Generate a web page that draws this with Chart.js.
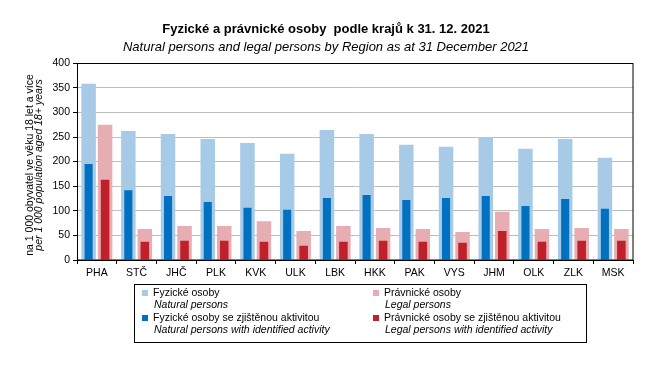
<!DOCTYPE html>
<html><head><meta charset="utf-8">
<script src="https://cdn.jsdelivr.net/npm/chart.js@4/dist/chart.umd.min.js"></script>
<style>html,body{margin:0;padding:0;background:#fff}#wrap{width:668px;height:379px;position:relative}</style>
</head><body><div id="wrap"><canvas id="c" width="668" height="379"></canvas></div>
<script>
const regions = ['PHA','STČ','JHČ','PLK','KVK','ULK','LBK','HKK','PAK','VYS','JHM','OLK','ZLK','MSK'];
const naturalPersons = [358,262,256,246,238,216,264,256,234,230,250,226,246,208];
const naturalActive  = [195,142,130,118,106,102,126,132,122,126,130,110,124,104];
const legalPersons   = [275,63,69,69,79,59,69,65,63,57,98,63,65,63];
const legalActive    = [163,37,39,39,37,29,37,39,37,35,59,37,39,39];
const yMin = 0, yMax = 400, yStep = 50;
const titleCz = 'Fyzické a právnické osoby  podle krajů k 31. 12. 2021';
const titleEn = 'Natural persons and legal persons by Region as at 31 December 2021';
const yTitleCz = 'na 1 000 obyvatel ve věku 18 let a více';
const yTitleEn = 'per 1 000 population aged 18+ years';
const legendItems = [
  {cz:'Fyzické osoby', en:'Natural persons', color:'#a7cbe7', x:142, y:293},
  {cz:'Právnické osoby', en:'Legal persons', color:'#e6adb2', x:373, y:293},
  {cz:'Fyzické osoby se zjištěnou aktivitou', en:'Natural persons with identified activity', color:'#0070c0', x:142, y:318},
  {cz:'Právnické osoby se zjištěnou aktivitou', en:'Legal persons with identified activity', color:'#c0202a', x:373, y:318}
];
const FONT = '"Liberation Sans", Arial, sans-serif';

const extras = {
  id: 'extras',
  afterDatasetsDraw(chart) {
    const {ctx, chartArea: a} = chart;
    ctx.save();
    ctx.strokeStyle = '#000'; ctx.lineWidth = 1;
    ctx.strokeRect(Math.round(a.left)+0.5, Math.round(a.top)+0.5, Math.round(a.right-a.left)-0.5, Math.round(a.bottom-a.top)-0.5);
    ctx.restore();
  },
  afterDraw(chart) {
    const ctx = chart.ctx;
    ctx.save();
    ctx.fillStyle = '#000';
    ctx.textAlign = 'center'; ctx.textBaseline = 'middle';
    ctx.save(); ctx.translate(30, 165); ctx.rotate(-Math.PI/2);
    ctx.font = '10.5px ' + FONT; ctx.fillText(yTitleCz, 0, 0); ctx.restore();
    ctx.save(); ctx.translate(39.5, 165); ctx.rotate(-Math.PI/2);
    ctx.font = 'italic 10.5px ' + FONT; ctx.fillText(yTitleEn, 0, 0); ctx.restore();
    ctx.strokeStyle = '#000'; ctx.lineWidth = 1;
    ctx.strokeRect(134.5, 284.5, 452, 58);
    ctx.textAlign = 'left';
    legendItems.forEach(it => {
      ctx.fillStyle = it.color;
      ctx.fillRect(it.x, it.y - 3, 6, 6);
      ctx.fillStyle = '#000';
      ctx.font = '10.5px ' + FONT;
      ctx.fillText(it.cz, it.x + 11, it.y);
      ctx.font = 'italic 10.5px ' + FONT;
      ctx.fillText(it.en, it.x + 12, it.y + 12);
    });
    ctx.restore();
  }
};

new Chart(document.getElementById('c'), {
  type: 'bar',
  data: {
    labels: regions,
    datasets: [
      {label:'Fyzické osoby se zjištěnou aktivitou', data: naturalActive, backgroundColor:'#0070c0', stack:'natural', order:0, barPercentage:0.49, categoryPercentage:0.83},
      {label:'Právnické osoby se zjištěnou aktivitou', data: legalActive, backgroundColor:'#c0202a', stack:'legal', order:0, barPercentage:0.52, categoryPercentage:0.83},
      {label:'Fyzické osoby', data: naturalPersons, backgroundColor:'#a7cbe7', stack:'natural', order:1, barPercentage:0.88, categoryPercentage:0.83},
      {label:'Právnické osoby', data: legalPersons, backgroundColor:'#e6adb2', stack:'legal', order:1, barPercentage:0.88, categoryPercentage:0.83}
    ]
  },
  options: {
    responsive: false, animation: false, devicePixelRatio: 1,
    layout: {padding: {left: 19, right: 35, top: 0, bottom: 99}},
    plugins: {
      legend: {display: false}, tooltip: {enabled: false},
      title: {display: true, text: titleCz, color:'#000', font:{family:FONT, size:13, weight:'bold'}, padding:{top:22, bottom:2}},
      subtitle: {display: true, text: titleEn, color:'#000', font:{family:FONT, size:13, style:'italic'}, padding:{top:0, bottom:8}}
    },
    scales: {
      x: {
        type:'category', offset:true,
        grid:{offset:true, drawOnChartArea:false, drawTicks:true, tickLength:4, tickColor:'#000'},
        border:{color:'#000', width:1},
        ticks:{color:'#000', font:{family:FONT, size:10.5}, padding:3, maxRotation:0, autoSkip:false},
        afterFit(s){ s.height = 20; }
      },
      y: {
        stacked: false,
        min: yMin, max: yMax,
        ticks:{stepSize:yStep, color:'#000', font:{family:FONT, size:10.5}, padding:3},
        grid:{color:'#bdbdbd', tickLength:4, tickColor:'#000'},
        border:{color:'#000', width:1},
        afterFit(s){ s.width = 58; }
      }
    }
  },
  plugins: [extras]
});
</script></body></html>
